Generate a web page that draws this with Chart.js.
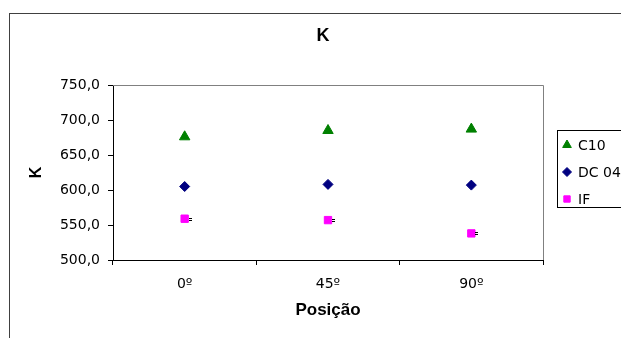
<!DOCTYPE html>
<html lang="pt">
<head>
    <meta charset="UTF-8">
    <title>K</title>
    <script src="https://cdn.jsdelivr.net/npm/chart.js"></script>
    <style>
        html, body { margin: 0; padding: 0; background: #fff; }
        #wrap { width: 621px; height: 338px; }
    </style>
</head>
<body>
    <div id="wrap"><canvas id="kChart" width="621" height="338"></canvas></div>

    <script>
        // dados
        const titulo = 'K';
        const posicoes = ['0º', '45º', '90º'];
        const c10 = [676, 685, 687];
        const dc04 = [605, 608, 607];
        const ifAco = [559, 557, 538];
        const yTicks = [500, 550, 600, 650, 700, 750];

        const fonte = 'DejaVu Sans';
        const fonteNegrito = 'Liberation Sans';

        // moldura, título, bordas da área de plotagem e legenda
        const moldura = {
            id: 'moldura',
            beforeDraw(chart) {
                const c = chart.ctx;
                c.save();
                c.fillStyle = '#fff';
                c.fillRect(0, 0, chart.width, chart.height);
                c.strokeStyle = '#404040';
                c.lineWidth = 1;
                c.strokeRect(9.5, 13.5, 800, 500);
                c.fillStyle = '#000';
                c.font = 'bold 18px "' + fonteNegrito + '"';
                c.textAlign = 'center';
                c.textBaseline = 'middle';
                c.fillText(titulo, 323, 36);
                c.restore();
            },
            afterDraw(chart) {
                const c = chart.ctx;
                const a = chart.chartArea;
                c.save();
                c.strokeStyle = '#808080';
                c.lineWidth = 1;
                c.beginPath();
                c.moveTo(a.left, Math.round(a.top) + 0.5);
                c.lineTo(Math.round(a.right) + 0.5, Math.round(a.top) + 0.5);
                c.lineTo(Math.round(a.right) + 0.5, a.bottom);
                c.stroke();

                // pequenas barras de erro do IF
                c.strokeStyle = '#000';
                chart.getDatasetMeta(2).data.forEach(p => {
                    const x = Math.round(p.x), y = Math.round(p.y);
                    c.beginPath();
                    c.moveTo(x + 4, y - 0.5); c.lineTo(x + 7, y - 0.5);
                    c.moveTo(x + 4, y + 1.5); c.lineTo(x + 7, y + 1.5);
                    c.stroke();
                });

                // legenda
                c.strokeStyle = '#000';
                c.strokeRect(557.5, 130.5, 100, 77);
                c.font = '14px "' + fonte + '"';
                c.textBaseline = 'middle';
                c.textAlign = 'left';
                chart.data.datasets.forEach((ds, i) => {
                    const y = 145 + i * 27;
                    c.fillStyle = ds.backgroundColor;
                    c.strokeStyle = ds.borderColor;
                    Chart.helpers.drawPoint(c, {
                        pointStyle: ds.pointStyle,
                        radius: ds.legendRadius,
                        borderWidth: 1
                    }, 567, y);
                    c.fillStyle = '#000';
                    c.fillText(ds.label, 578, y + 1);
                });
                c.restore();
            }
        };

        new Chart(document.getElementById('kChart'), {
            type: 'line',
            data: {
                labels: posicoes,
                datasets: [{
                    label: 'C10',
                    data: c10,
                    showLine: false,
                    pointStyle: 'triangle',
                    pointRadius: 6,
                    legendRadius: 5,
                    backgroundColor: '#008000',
                    borderColor: '#008000',
                    pointBorderWidth: 1
                }, {
                    label: 'DC 04',
                    data: dc04,
                    showLine: false,
                    pointStyle: 'rectRot',
                    pointRadius: 5,
                    legendRadius: 4.5,
                    backgroundColor: '#000080',
                    borderColor: '#000080',
                    pointBorderWidth: 1
                }, {
                    label: 'IF',
                    data: ifAco,
                    showLine: false,
                    pointStyle: 'rect',
                    pointRadius: 5.2,
                    legendRadius: 4.5,
                    backgroundColor: '#FF00FF',
                    borderColor: '#FF00FF',
                    pointBorderWidth: 1
                }]
            },
            options: {
                responsive: false,
                animation: false,
                layout: { padding: { left: 0, top: 85, right: 78, bottom: 0 } },
                plugins: {
                    legend: { display: false },
                    tooltip: { enabled: false },
                    title: { display: false }
                },
                scales: {
                    x: {
                        type: 'category',
                        offset: true,
                        afterFit(s) { s.height = 78; },
                        grid: {
                            offset: true,
                            drawOnChartArea: false,
                            drawTicks: true,
                            tickLength: 5,
                            color: '#000'
                        },
                        border: { display: true, color: '#000' },
                        ticks: {
                            color: '#000',
                            padding: 11,
                            font: { family: fonte, size: 14 }
                        },
                        title: {
                            display: true,
                            text: 'Posição',
                            color: '#000',
                            font: { family: fonteNegrito, size: 17, weight: 'bold' },
                            padding: { top: 0, bottom: 17 }
                        }
                    },
                    y: {
                        min: yTicks[0],
                        max: yTicks[yTicks.length - 1],
                        afterFit(s) { s.width = 113; },
                        afterBuildTicks(s) { s.ticks = yTicks.map(v => ({ value: v })); },
                        grid: {
                            drawOnChartArea: false,
                            drawTicks: true,
                            tickLength: 5,
                            color: '#000'
                        },
                        border: { display: true, color: '#000' },
                        ticks: {
                            color: '#000',
                            padding: 8,
                            font: { family: fonte, size: 14 },
                            callback: v => v.toFixed(1).replace('.', ',')
                        },
                        title: {
                            display: true,
                            text: 'K',
                            color: '#000',
                            font: { family: fonteNegrito, size: 16, weight: 'bold' },
                            padding: { top: 27, bottom: 0 }
                        }
                    }
                }
            },
            plugins: [moldura]
        });
    </script>
</body>
</html>
